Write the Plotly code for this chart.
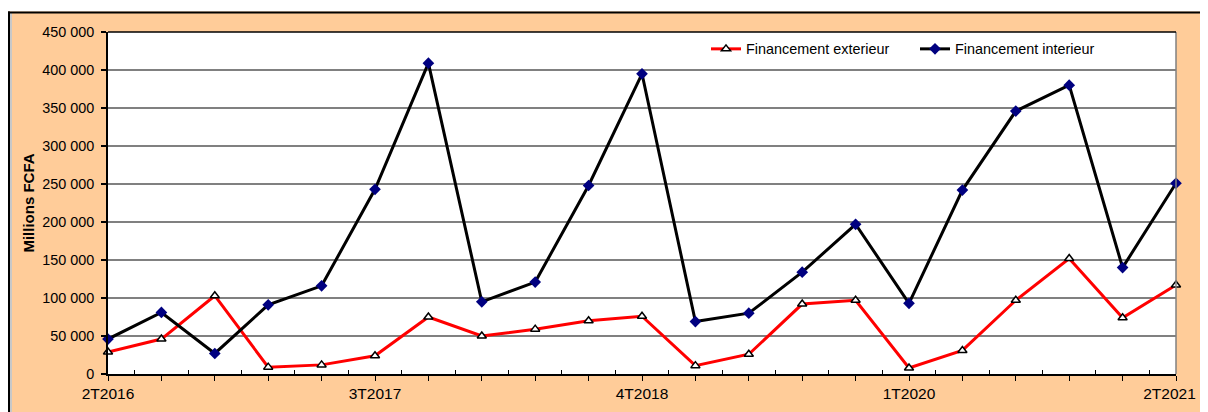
import plotly.graph_objects as go

quarters = ["2T2016", "3T2016", "4T2016", "1T2017", "2T2017", "3T2017", "4T2017",
            "1T2018", "2T2018", "3T2018", "4T2018", "1T2019", "2T2019", "3T2019",
            "4T2019", "1T2020", "2T2020", "3T2020", "4T2020", "1T2021", "2T2021"]
shown_labels = ["2T2016", "3T2017", "4T2018", "1T2020", "2T2021"]

financement_exterieur = [29000, 46000, 103000, 9000, 12000, 24000, 75000, 50000, 59000, 70000, 76000,
                         11000, 26000, 92000, 97000, 8000, 31000, 97000, 152000, 74000, 117000]
financement_interieur = [46000, 81000, 27000, 91000, 116000, 243000, 409000, 95000, 121000, 248000, 395000,
                         69000, 80000, 134000, 197000, 93000, 242000, 346000, 380000, 140000, 251000]

y_ticks = [0, 50000, 100000, 150000, 200000, 250000, 300000, 350000, 400000, 450000]

# figure size (page has an 8px body margin)
W, H = 1200, 404
L, R, T, B = 100, 32, 24, 38
pw, ph = W - L - R, H - T - B
OFF = 8  # page offset of the figure in the screenshot


def px(sx):
    """screenshot x -> paper x"""
    return (sx - OFF - L) / pw


def py(sy):
    """screenshot y -> paper y"""
    return (H - B - (sy - OFF)) / ph


idx = list(range(len(quarters)))
FONT = "Liberation Sans, Arial, sans-serif"

# tick texts: only every fifth quarter is labelled; the last one gets a little
# trailing padding so that it stays fully inside the visible window
tick_text = []
for i, q in enumerate(quarters):
    if q not in shown_labels:
        tick_text.append("")
    elif i == len(quarters) - 1:
        tick_text.append(q + "\u00a0\u00a0\u00a0")
    else:
        tick_text.append(q)

fig = go.Figure()
fig.add_trace(go.Scatter(
    x=idx, y=financement_exterieur, name="Financement exterieur",
    mode="lines+markers", cliponaxis=False,
    line=dict(color="#FF0000", width=3),
    marker=dict(symbol="triangle-up", size=8, color="white", line=dict(color="black", width=1.5)),
))
fig.add_trace(go.Scatter(
    x=idx, y=financement_interieur, name="Financement interieur",
    mode="lines+markers", cliponaxis=False,
    line=dict(color="#000000", width=3),
    marker=dict(symbol="diamond", size=9, color="#000080", line=dict(color="#000080", width=0)),
))

shapes = [
    # white strip above the chart frame
    dict(type="rect", xref="paper", yref="paper", x0=px(-20), x1=px(W + 40), y0=py(11.5), y1=py(-20),
         fillcolor="white", line=dict(width=0), layer="above"),
    # light gray inner edge on the left
    dict(type="line", xref="paper", yref="paper", x0=px(10.5), x1=px(10.5), y0=py(H + 40), y1=py(13),
         line=dict(color="#C8C8C8", width=3), layer="above"),
    # black frame lines (top and left)
    dict(type="line", xref="paper", yref="paper", x0=px(7.5), x1=px(W + 40), y0=py(12.5), y1=py(12.5),
         line=dict(color="black", width=2), layer="above"),
    dict(type="line", xref="paper", yref="paper", x0=px(9), x1=px(9), y0=py(H + 40), y1=py(11.5),
         line=dict(color="black", width=2), layer="above"),
    # plot area right edge
    dict(type="line", xref="paper", yref="paper", x0=1, x1=1, y0=0, y1=1,
         line=dict(color="#808080", width=1.5), layer="above"),
    # plot area top edge
    dict(type="line", xref="paper", yref="paper", x0=0, x1=1, y0=1, y1=1,
         line=dict(color="black", width=1.5), layer="above"),
]

fig.update_layout(
    width=W, height=H,
    margin=dict(l=L, r=R, t=T, b=B, autoexpand=False),
    paper_bgcolor="#FFCC99",
    plot_bgcolor="white",
    separators=". ",
    font=dict(family=FONT, size=14, color="black"),
    showlegend=True,
    legend=dict(orientation="h", x=px(706), y=py(33), xanchor="left", yanchor="top",
                bgcolor="rgba(0,0,0,0)", font=dict(size=14.4, family=FONT, color="black"),
                traceorder="normal", entrywidth=164, entrywidthmode="pixels"),
    shapes=shapes,
)

fig.update_xaxes(
    range=[0, len(quarters) - 1],
    tickmode="array", tickvals=idx, ticktext=tick_text,
    ticks="outside", ticklen=5, tickwidth=1.2, tickcolor="black",
    ticklabeloverflow="allow",
    showgrid=False, zeroline=False,
    showline=True, linecolor="black", linewidth=1.5,
    tickfont=dict(size=15.5, family=FONT, color="black"),
    minor=dict(tickmode="array", tickvals=[i + 0.5 for i in idx[:-1]], ticks="inside",
               ticklen=4, tickwidth=1.2, tickcolor="black", showgrid=False),
)

fig.update_yaxes(
    range=[0, 450000],
    tickmode="array", tickvals=y_ticks, tickformat=",d",
    ticks="outside", ticklen=5, tickwidth=1.5, tickcolor="black",
    ticklabelstandoff=4,
    showgrid=True, gridcolor="#808080", gridwidth=1.5,
    zeroline=False,
    showline=True, linecolor="black", linewidth=1.5,
    tickfont=dict(size=14.4, family=FONT, color="black"),
    title=dict(text="<b>Millions FCFA</b>", font=dict(size=15, family=FONT, color="black"), standoff=4),
)

fig.write_html("out.html", config={"displayModeBar": False})
